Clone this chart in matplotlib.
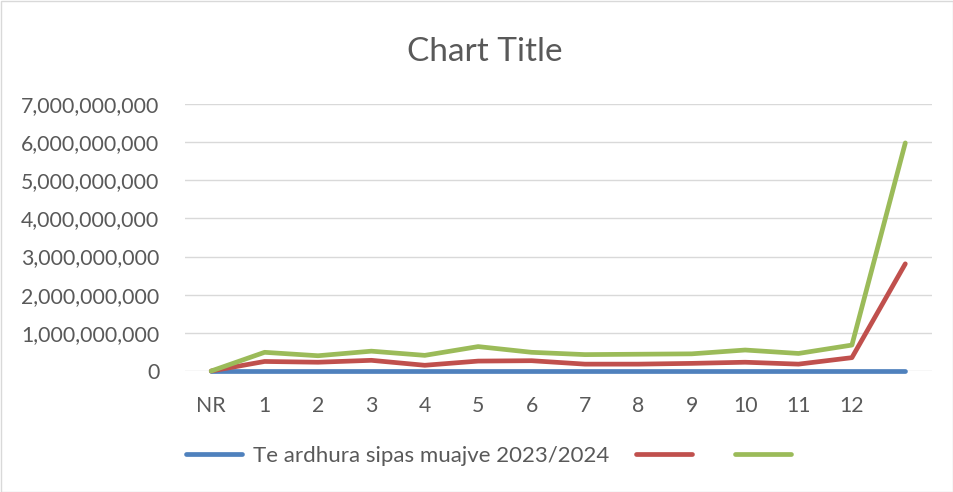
import matplotlib
matplotlib.use("Agg")
import matplotlib.pyplot as plt
from matplotlib.patches import Rectangle

plt.rcParams['font.family'] = ['Lato', 'DejaVu Sans']

# monthly revenue series (NR, months 1-12, total)
categories = ['NR', '1', '2', '3', '4', '5', '6', '7', '8', '9', '10', '11', '12', '']
blue_vals = [0, 0, 0, 0, 0, 0, 0, 0, 0, 0, 0, 0, 0, 0]
red_vals = [0, 0.25e9, 0.23e9, 0.28e9, 0.15e9, 0.26e9, 0.27e9, 0.18e9, 0.18e9,
            0.20e9, 0.23e9, 0.18e9, 0.35e9, 2.81e9]
green_vals = [0, 0.49e9, 0.40e9, 0.52e9, 0.41e9, 0.64e9, 0.49e9, 0.43e9, 0.44e9,
              0.45e9, 0.55e9, 0.46e9, 0.68e9, 5.98e9]
series_names = ['Te ardhura sipas muajve 2023/2024', ' ', ' ']
yticks = [0, 1e9, 2e9, 3e9, 4e9, 5e9, 6e9, 7e9]

W, H = 954, 492
fig = plt.figure(figsize=(W / 100, H / 100), dpi=100)
fig.patch.set_facecolor('white')
fig.patches.append(Rectangle((0.5 / W, 0.5 / H), 1 - 1.5 / W, 1 - 1.5 / H,
                             transform=fig.transFigure, fill=False,
                             edgecolor='#D9D9D9', lw=1))

ax = fig.add_axes([184.5 / W, 121 / H, (932 - 184.5) / W, (371 - 104) / H])
x = range(len(categories))
colors = ['#4F81BD', '#C0504D', '#9BBB59']
for vals, c, name in zip([blue_vals, red_vals, green_vals], colors, series_names):
    ax.plot(x, vals, color=c, lw=3.4, solid_capstyle='round', label=name,
            clip_on=False, zorder=3)

ax.set_xlim(-0.5, len(categories) - 0.5)
ax.set_ylim(0, 7e9)
ax.set_yticks(yticks)
ax.set_yticklabels([f'{int(v):,}' for v in yticks])
ax.set_xticks(list(x))
ax.set_xticklabels(categories)
ax.grid(axis='y', color='#D9D9D9', lw=1)
ax.set_axisbelow(True)
for s in ax.spines.values():
    s.set_visible(False)
ax.tick_params(axis='both', length=0, labelsize=15.3, colors='#595959')
ax.tick_params(axis='x', pad=18)
ax.tick_params(axis='y', pad=18)

fig.text(485 / W, 1 - 52 / H, 'Chart Title', ha='center', va='center',
         fontsize=24, color='#595959')

leg = fig.legend(loc='center', bbox_to_anchor=(497 / W, 1 - 456 / H), ncol=3,
                 frameon=False, fontsize=16, handlelength=2.5,
                 columnspacing=1.2, handletextpad=0.5)
for t in leg.get_texts():
    t.set_color('#595959')

fig.savefig('out.png', dpi=100)
